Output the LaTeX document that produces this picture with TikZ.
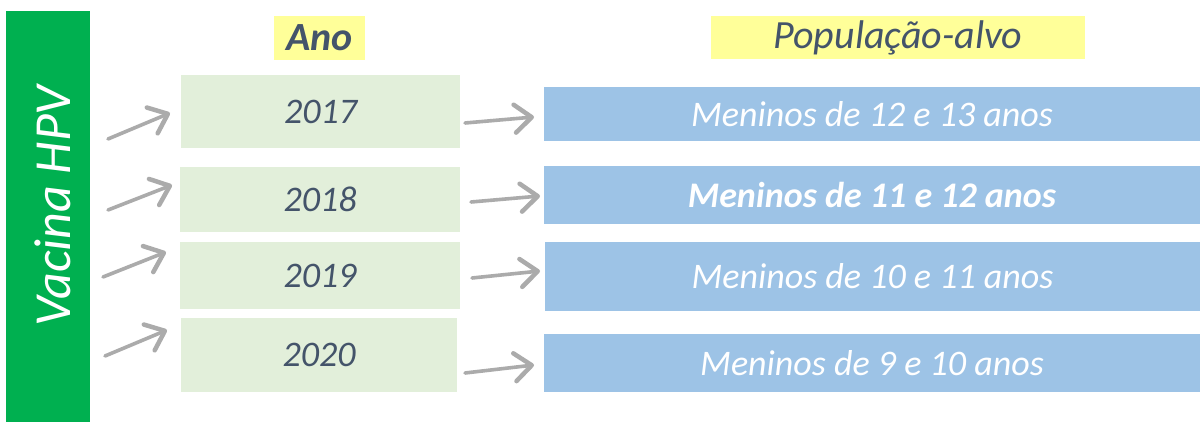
\documentclass[tikz,border=0pt]{standalone}
\usepackage{fontspec}
\setmainfont{Carlito}
\usetikzlibrary{arrows.meta}
\definecolor{vgreen}{HTML}{00B050}
\definecolor{hyellow}{HTML}{FFFF99}
\definecolor{ylight}{HTML}{E2EFDA}
\definecolor{pblue}{HTML}{9DC3E6}
\definecolor{dtext}{HTML}{44546A}
\definecolor{agray}{HTML}{ABABAB}
\begin{document}
\begin{tikzpicture}[x=1pt,y=-1pt,
  box/.style={inner sep=0pt, anchor=north west, outer sep=0pt},
  hdr/.style={box, fill=hyellow, text=dtext, font=\fontsize{40}{44}\selectfont\itshape},
  yearbox/.style={box, fill=ylight, text=dtext, font=\fontsize{36}{40}\selectfont\itshape},
  popbox/.style={box, fill=pblue, text=white, font=\fontsize{36}{40}\selectfont\itshape},
  sk/.style={draw=agray, line width=3.6pt, line cap=round,
    -{Straight Barb[length=17pt, width=28pt, line width=4.5pt, round]}}]
\useasboundingbox (0,0) rectangle (1203,422);
\fill[white] (0,0) rectangle (1203,422);
% green bar
\node[box, fill=vgreen, minimum width=84pt, minimum height=411pt] (bar) at (6,11) {};
\node[rotate=90, text=white, font=\fontsize{52}{56}\selectfont\itshape, anchor=base] (vac) at (70,206) {Vacina HPV};
% headers
\node[hdr, minimum width=91pt, minimum height=44pt] (ano) at (274,16) {\bfseries Ano};
\node[hdr, minimum width=374pt, minimum height=43pt] (pop) at (711,16) {População-alvo};
% year boxes
\node[yearbox, minimum width=279pt, minimum height=73pt] (y17) at (181,75) {2017};
\node[yearbox, minimum width=280pt, minimum height=65pt] (y18) at (180,167) {2018};
\node[yearbox, minimum width=280pt, minimum height=67pt] (y19) at (180,242) {2019};
\node[yearbox, minimum width=276pt, minimum height=74pt] (y20) at (181,318) {2020};
% population boxes
\node[popbox, minimum width=656pt, minimum height=54pt] (b1) at (544,87) {Meninos de 12 e 13 anos};
\node[popbox, minimum width=656pt, minimum height=58pt] (b2) at (544,166) {\bfseries Meninos de 11 e 12 anos};
\node[popbox, minimum width=655pt, minimum height=69pt] (b3) at (545,242) {Meninos de 10 e 11 anos};
\node[popbox, minimum width=656pt, minimum height=58pt] (b4) at (544,334) {Meninos de 9 e 10 anos};
% left arrows
\coordinate (la1) at (108,139);
\coordinate (la2) at (108,210);
\coordinate (la3) at (103,277);
\coordinate (la4) at (105,356);
\draw[sk] (la1) -- ([xshift=-11pt, yshift=-1.5pt]y17.west);
\draw[sk] (la2) -- ([xshift=-8pt, yshift=14.5pt]y18.west);
\draw[sk] (la3) -- ([xshift=-14pt, yshift=23.5pt]y19.west);
\draw[sk] (la4) -- ([xshift=-14pt, yshift=25pt]y20.west);
% right arrows
\draw[sk] ([xshift=5pt, yshift=-11.5pt]y17.east) -- ([xshift=-10pt, yshift=-3pt]b1.west);
\draw[sk] ([xshift=11pt, yshift=-2.5pt]y18.east) -- ([xshift=-4pt, yshift=-1pt]b2.west);
\draw[sk] ([xshift=12pt, yshift=-2.5pt]y19.east) -- ([xshift=-5pt, yshift=5.5pt]b3.west);
\draw[sk] ([xshift=8pt, yshift=-18pt]y20.east) -- ([xshift=-10pt, yshift=-2pt]b4.west);
\end{tikzpicture}
\end{document}
